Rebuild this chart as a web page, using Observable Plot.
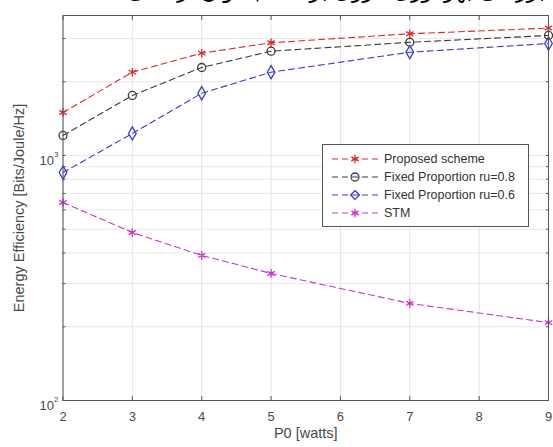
<!DOCTYPE html>
<html><head><meta charset="utf-8">
<script src="https://cdn.jsdelivr.net/npm/d3@7"></script>
<script src="https://cdn.jsdelivr.net/npm/@observablehq/plot@0.6"></script>
<style>
body{margin:0;background:#fff;}
#wrap{position:relative;width:553px;height:447px;overflow:hidden;font-family:"Liberation Sans",Arial,sans-serif;}
#title{position:absolute;right:8px;top:-22px;font-family:"DejaVu Sans",sans-serif;font-size:22px;direction:rtl;color:#000;white-space:nowrap;}
#legend{position:absolute;left:322px;top:144px;width:205px;height:81px;border:1px solid #555;background:#fff;}
</style></head>
<body><div id="wrap"><div id="chart"></div><div id="title">بررسی بهره‌وری انرژی بر حسب توان ارسالی</div><div id="legend"></div></div>
<script>
const P0 = [2, 3, 4, 5, 7, 9];
const proposed = [1498, 2188, 2616, 2885, 3139, 3312];
const fixed08 = [1207, 1758, 2286, 2665, 2897, 3090];
const fixed06 = [852, 1230, 1795, 2188, 2640, 2865];
const stm = [643, 485, 391, 330, 249, 208];
const seriesNames = ["Proposed scheme", "Fixed Proportion ru=0.8", "Fixed Proportion ru=0.6", "STM"];
const seriesColors = ["#e02828", "#3a3a3a", "#3a3ad0", "#d030d0"];
const seriesSymbols = ["asterisk", "circle", "diamond", "asterisk"];
const xTicks = [2, 3, 4, 5, 6, 7, 8, 9];
const yMinor = [100, 200, 300, 400, 500, 600, 700, 800, 900, 1000, 2000, 3000];
const yLabelValues = [100, 1000];
const yLabelExps = ["2", "3"];
const xLabel = "P0 [watts]";
const yLabel = "Energy Efficiency [Bits/Joule/Hz]";

const seriesValues = [proposed, fixed08, fixed06, stm];
const rows = [];
seriesValues.forEach((vals, i) => vals.forEach((v, j) => rows.push({s: seriesNames[i], x: P0[j], y: v})));

const color = {domain: seriesNames, range: seriesColors};
const fs = {fontSize: 13, fill: "#4a4a4a", fontFamily: "Liberation Sans, Arial, sans-serif"};

const chart = Plot.plot({
  width: 553, height: 447,
  marginLeft: 62.5, marginRight: 5, marginTop: 15, marginBottom: 47,
  style: {fontFamily: "Liberation Sans, Arial, sans-serif", fontSize: "12px", color: "#4a4a4a", background: "transparent"},
  x: {domain: [2, 9], label: null},
  y: {type: "log", domain: [100, 3727], label: null},
  color,
  symbol: {domain: seriesNames, range: seriesSymbols},
  marks: [
    Plot.ruleX(xTicks, {stroke: "#e3e3e3"}),
    Plot.ruleY(yMinor, {stroke: "#e8e8e8"}),
    Plot.axisX({ticks: xTicks, tickSize: -4, tickFormat: () => "", stroke: "#555"}),
    Plot.axisX({ticks: xTicks, anchor: "top", tickSize: -4, tickFormat: () => "", stroke: "#555"}),
    Plot.axisX({ticks: xTicks, tickSize: 0, tickPadding: 11, tickFormat: d => String(d), ...fs, label: null}),
    Plot.axisY({ticks: yMinor, tickSize: -3, tickFormat: () => "", stroke: "#555"}),
    Plot.axisY({ticks: yMinor, anchor: "right", tickSize: -3, tickFormat: () => "", stroke: "#555"}),
    Plot.text(yLabelValues, {x: 2, y: d => d, text: () => "10", textAnchor: "end", dx: -9, dy: 5, ...fs}),
    Plot.text(yLabelValues, {x: 2, y: d => d, text: (d, i) => yLabelExps[i], textAnchor: "start", dx: -9, dy: -1, fontSize: 8, fill: "#4a4a4a"}),
    Plot.line(rows, {x: "x", y: "y", z: "s", stroke: "s", strokeWidth: 1.1, strokeDasharray: "6,4"}),
    Plot.dot(rows, {x: "x", y: "y", stroke: "s", symbol: "s", r: 4, strokeWidth: 1.3}),
    Plot.frame({stroke: "#555"}),
    Plot.text([xLabel], {frameAnchor: "bottom", dy: 37, text: d => d, fontSize: 14.5, fill: "#4a4a4a"}),
    Plot.text([yLabel], {frameAnchor: "left", textAnchor: "middle", dx: -44, rotate: -90, text: d => d, fontSize: 14.5, fill: "#4a4a4a"})
  ]
});
document.getElementById("chart").appendChild(chart);

// legend
const leg = d3.select("#legend").append("svg").attr("width", 205).attr("height", 81);
const symMap = {asterisk: d3.symbolAsterisk, circle: d3.symbolCircle, diamond: d3.symbolDiamond2};
seriesNames.forEach((name, i) => {
  const y = 14 + i * 18;
  leg.append("line").attr("x1", 8).attr("x2", 56).attr("y1", y).attr("y2", y)
    .attr("stroke", seriesColors[i]).attr("stroke-width", 1.1).attr("stroke-dasharray", "6,4").attr("stroke-dashoffset", -1);
  leg.append("path").attr("transform", `translate(32,${y})`)
    .attr("d", d3.symbol(symMap[seriesSymbols[i]], 50)())
    .attr("fill", "none").attr("stroke", seriesColors[i]).attr("stroke-width", 1.3);
  leg.append("text").attr("x", 61).attr("y", y + 4).text(name)
    .attr("font-size", 12.5).attr("fill", "#333").attr("font-family", "Liberation Sans, Arial, sans-serif");
});
</script></body></html>
